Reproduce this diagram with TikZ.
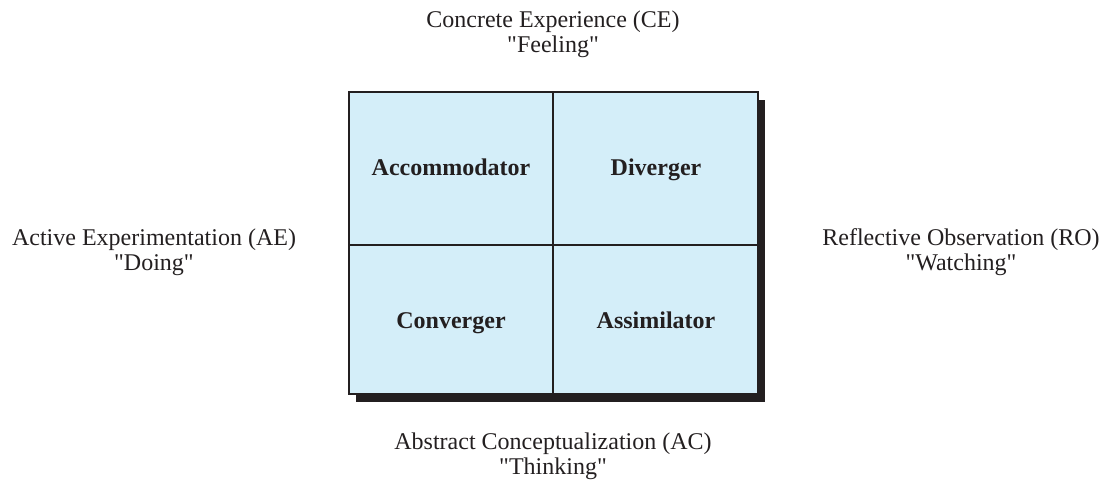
\documentclass[tikz,border=0pt]{standalone}
\usepackage{fontspec}
\setmainfont{Liberation Serif}
\definecolor{cellblue}{HTML}{D4EEF9}
\definecolor{darkline}{HTML}{231F20}
\newcommand{\sq}{\textquotedbl}
\begin{document}
\begin{tikzpicture}[x=0.5pt,y=-0.5pt,
  lab/.style={align=center,font=\fontsize{12}{12.5}\selectfont,text=darkline,inner sep=0pt},
  cell/.style={font=\fontsize{12}{12.5}\selectfont\bfseries,text=darkline,inner sep=0pt,text height=8pt,text depth=2.5pt}]
\useasboundingbox (0,0) rectangle (1108,491);
\fill[darkline] (356,100) rectangle (765,402);
\draw[fill=cellblue,draw=darkline,line width=1pt] (349,92) rectangle (758,394);
\coordinate (top) at (553,92);
\coordinate (bot) at (553,394);
\coordinate (lft) at (349,245);
\coordinate (rgt) at (758,245);
\draw[darkline,line width=0.6pt] (top) -- (bot);
\draw[darkline,line width=0.6pt] (lft) -- (rgt);
\node[cell] (acc) at (451,170) {Accommodator};
\node[cell] (div) at (656,170) {Diverger};
\node[cell] (con) at (451,323) {Converger};
\node[cell] (ass) at (656,323) {Assimilator};
\node[lab] (ce) at (553,34) {Concrete Experience (CE)\\\sq Feeling\sq};
\node[lab] (ae) at (154,252) {Active Experimentation (AE)\\\sq Doing\sq};
\node[lab] (ro) at (961,252) {Reflective Observation (RO)\\\sq Watching\sq};
\node[lab] (ac) at (553,456) {Abstract Conceptualization (AC)\\\sq Thinking\sq};
\end{tikzpicture}
\end{document}
